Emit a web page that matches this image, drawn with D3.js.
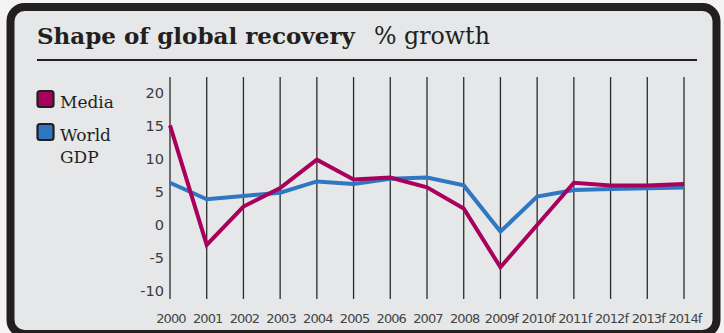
<!DOCTYPE html>
<html>
<head>
<meta charset="utf-8">
<script src="https://cdn.jsdelivr.net/npm/d3@7"></script>
<style>
  html, body { margin: 0; padding: 0; background: #f3f3f3; }
  svg { display: block; }
</style>
</head>
<body>
<svg id="chart" width="724" height="333"></svg>
<script>
// Years along the x axis (f = forecast)
const years = ["2000", "2001", "2002", "2003", "2004", "2005", "2006", "2007",
               "2008", "2009f", "2010f", "2011f", "2012f", "2013f", "2014f"];
// Annual % growth
const media    = [15.1, -3.0, 2.8, 5.6, 9.9, 6.9, 7.2, 5.7, 2.5, -6.4, 0.0, 6.4, 6.0, 6.0, 6.2];
const worldGdp = [6.4, 3.9, 4.4, 4.9, 6.6, 6.2, 7.0, 7.2, 6.0, -1.0, 4.3, 5.3, 5.45, 5.55, 5.7];
const yTicks = [20, 15, 10, 5, 0, -5, -10];

const seriesNames = ["Media", "World GDP"];
const seriesColors = ["#a8005c", "#2f77c2"];

const svg = d3.select("#chart");

// Frame
svg.append("rect")
  .attr("x", 10.5).attr("y", 7)
  .attr("width", 706).attr("height", 327)
  .attr("rx", 14).attr("ry", 14)
  .attr("fill", "#e6e7e8")
  .attr("stroke", "#231f20")
  .attr("stroke-width", 8);

// Title
const title = svg.append("text")
  .attr("x", 37).attr("y", 44)
  .attr("font-family", "'DejaVu Serif', serif")
  .attr("font-weight", "bold")
  .attr("font-size", 22)
  .attr("fill", "#231f20")
  .text("Shape of global recovery");
const tw = title.node().getComputedTextLength();
title.attr("font-size", 22 * 318 / tw);

const sub = svg.append("text")
  .attr("x", 374).attr("y", 44)
  .attr("font-family", "'DejaVu Serif', serif")
  .attr("font-size", 22)
  .attr("fill", "#231f20")
  .text("% growth");
const sw = sub.node().getComputedTextLength();
sub.attr("font-size", 22 * 116 / sw);

svg.append("line")
  .attr("x1", 37).attr("x2", 697)
  .attr("y1", 60).attr("y2", 60)
  .attr("stroke", "#231f20").attr("stroke-width", 2);

// Scales
const x = d3.scalePoint().domain(years).range([170, 684]);
const y = d3.scaleLinear().domain([-10, 20]).range([291, 93]);

// Vertical grid lines
svg.append("g")
  .selectAll("line")
  .data(years)
  .join("line")
  .attr("x1", d => x(d)).attr("x2", d => x(d))
  .attr("y1", 77).attr("y2", 299)
  .attr("stroke", "#2b2b2b")
  .attr("stroke-width", 1.3);

// Y axis labels (plain hyphen for negatives)
const yAxis = svg.append("g")
  .attr("transform", "translate(164,0)")
  .call(d3.axisLeft(y).tickValues(yTicks).tickSize(0).tickPadding(0).tickFormat(d => String(d)));
yAxis.select(".domain").remove();
yAxis.selectAll("text")
  .attr("font-family", "'DejaVu Sans', sans-serif")
  .attr("font-size", 14.5)
  .attr("fill", "#3a3a3a");

// X axis labels
const xAxis = svg.append("g")
  .attr("transform", "translate(0,314)")
  .call(d3.axisBottom(x).tickSize(0).tickPadding(0));
xAxis.select(".domain").remove();
xAxis.selectAll("text")
  .attr("font-family", "'DejaVu Sans', sans-serif")
  .attr("font-size", 13)
  .attr("letter-spacing", "-0.9")
  .attr("dx", "0.45")
  .attr("fill", "#444");

// Lines
const line = d3.line()
  .x((d, i) => x(years[i]))
  .y(d => y(d));

[worldGdp, media].forEach((vals, k) => {
  svg.append("path")
    .datum(vals)
    .attr("d", line)
    .attr("fill", "none")
    .attr("stroke", k === 0 ? seriesColors[1] : seriesColors[0])
    .attr("stroke-width", 4)
    .attr("stroke-linejoin", "miter");
});

// Legend
const legend = svg.append("g");
const legendY = [91, 124];
seriesNames.forEach((name, i) => {
  legend.append("rect")
    .attr("x", 37.5).attr("y", legendY[i])
    .attr("width", 16).attr("height", 16)
    .attr("rx", 2.5)
    .attr("fill", seriesColors[i])
    .attr("stroke", "#231f20").attr("stroke-width", 2.2);
  const words = name.split(" ");
  words.forEach((w, j) => {
    legend.append("text")
      .attr("x", 60).attr("y", legendY[i] + 17 + j * 22)
      .attr("font-family", "'DejaVu Serif', serif")
      .attr("font-size", 17)
      .attr("fill", "#231f20")
      .text(w);
  });
});
</script>
</body>
</html>
